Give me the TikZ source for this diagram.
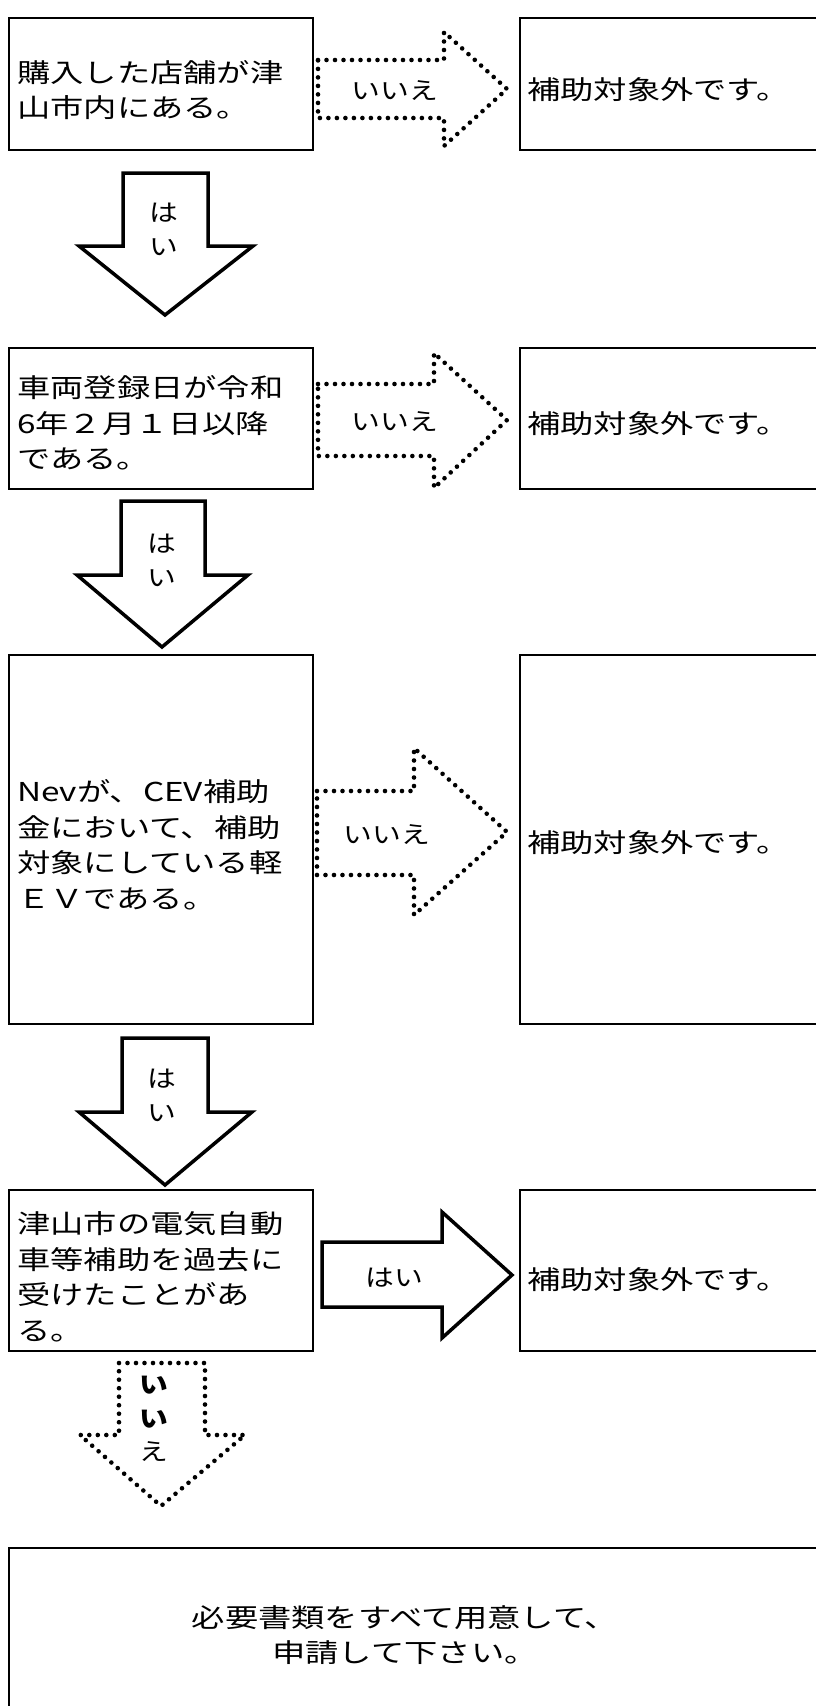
\documentclass[tikz,border=0pt]{standalone}
\usepackage{fontspec}
\usepackage{graphicx}
\newfontfamily\jp{Noto Sans CJK JP}
\newcommand{\wq}[1]{\scalebox{1.28}[1]{#1}}
\newcommand{\wl}[1]{\scalebox{1.2}[1]{#1}}
\begin{document}
\begin{tikzpicture}[x=1pt,y=-1pt,
  box/.style={draw, line width=1.5pt, inner sep=0pt, anchor=north west},
  qtext/.style={font=\jp\fontsize{26}{35.5}\selectfont, align=left, anchor=west, inner sep=0pt},
  ctext/.style={font=\jp\fontsize{26}{35.5}\selectfont, align=center, inner sep=0pt},
  lab/.style={font=\jp\fontsize{24}{34}\selectfont, align=center, inner sep=0pt},
  solidarrow/.style={draw, fill=white, line width=3.5pt, line join=miter},
  dotarrow/.style={draw, fill=white, line width=4.6pt, line cap=round, line join=round, dash pattern=on 0pt off 8.5pt}]
\useasboundingbox (0,0) rectangle (815,1706);

% question boxes
\node[box, minimum width=304pt, minimum height=132pt] (q1) at (8,17) {};
\node[box, minimum width=304pt, minimum height=141pt] (q2) at (8,347) {};
\node[box, minimum width=304pt, minimum height=369pt] (q3) at (8,654) {};
\node[box, minimum width=304pt, minimum height=161pt] (q4) at (8,1189) {};
% result boxes
\node[box, minimum width=320pt, minimum height=132pt] (n1) at (519,17) {};
\node[box, minimum width=320pt, minimum height=141pt] (n2) at (519,347) {};
\node[box, minimum width=320pt, minimum height=369pt] (n3) at (519,654) {};
\node[box, minimum width=320pt, minimum height=161pt] (n4) at (519,1189) {};
\node[box, minimum width=830pt, minimum height=200pt] (fin) at (8,1547) {};

% texts
\node[qtext] (q1t) at (17,90) {\wq{購入した店舗が津}\\\wq{山市内にある。}};
\node[qtext] (q2t) at (17,423) {\wq{車両登録日が令和}\\\wq{6年２月１日以降}\\\wq{である。}};
\node[qtext] (q3t) at (17,845) {\wq{Nevが、CEV補助}\\\wq{金において、補助}\\\wq{対象にしている軽}\\\wq{ＥＶである。}};
\node[qtext] (q4t) at (17,1277) {\wq{津山市の電気自動}\\\wq{車等補助を過去に}\\\wq{受けたことがあ}\\\wq{る。}};
\node[qtext] (n1t) at (527,90) {\wq{補助対象外です。}};
\node[qtext] (n2t) at (527,424) {\wq{補助対象外です。}};
\node[qtext] (n3t) at (527,843) {\wq{補助対象外です。}};
\node[qtext] (n4t) at (527,1280) {\wq{補助対象外です。}};
\node[ctext] (fint) at (405,1635) {\wq{必要書類をすべて用意して、}\\\wq{申請して下さい。}};

% right arrows
\draw[dotarrow] (318,60) -- (444,60) -- (444,32) -- (507,89) -- (444,146) -- (444,118) -- (318,118) -- cycle;
\draw[dotarrow] (318,384) -- (434,384) -- (434,353) -- (507,420) -- (434,488) -- (434,456) -- (318,456) -- cycle;
\draw[dotarrow] (317,791) -- (414,791) -- (414,748) -- (507,832) -- (414,915) -- (414,875) -- (317,875) -- cycle;
\draw[solidarrow] (322,1242) -- (442,1242) -- (442,1212) -- (512,1275) -- (442,1338) -- (442,1307) -- (322,1307) -- cycle;
\node[lab] (l1) at (395,91) {\wl{いいえ}};
\node[lab] (l2) at (395,422) {\wl{いいえ}};
\node[lab] (l3) at (387,835) {\wl{いいえ}};
\node[lab] (l4) at (394,1278) {\wl{はい}};

% down arrows
\draw[solidarrow] (123,173) -- (208,173) -- (208,246) -- (253,246) -- (165,315) -- (79,246) -- (123,246) -- cycle;
\draw[solidarrow] (121,501) -- (205,501) -- (205,575) -- (248,575) -- (162,647) -- (77,575) -- (121,575) -- cycle;
\draw[solidarrow] (122,1038) -- (208,1038) -- (208,1112) -- (252,1112) -- (165,1185) -- (79,1112) -- (122,1112) -- cycle;
\draw[dotarrow] (119,1363) -- (205,1363) -- (205,1435) -- (245,1435) -- (161,1506) -- (80,1435) -- (119,1435) -- cycle;
\node[lab] (d1) at (164,229.5) {\wl{は}\\\wl{い}};
\node[lab] (d2) at (162,560) {\wl{は}\\\wl{い}};
\node[lab] (d3) at (162,1095.5) {\wl{は}\\\wl{い}};
\node[lab, font=\jp\fontsize{24}{33.5}\selectfont] (d4) at (154,1419) {\wl{\bfseries い}\\\wl{\bfseries い}\\\wl{え}};
\end{tikzpicture}
\end{document}
